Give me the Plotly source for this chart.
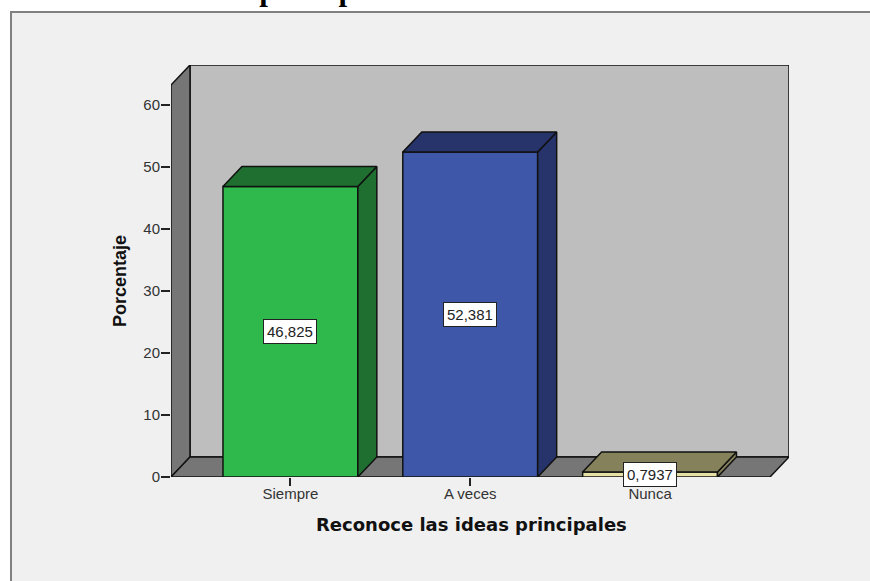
# Recreation of the SPSS style 3D bar chart with Plotly

import plotly.graph_objects as go

categories = ['Siempre', 'A veces', 'Nunca']
percentages = [46.825, 52.381, 0.7937]
value_labels = ['46,825', '52,381', '0,7937']
y_ticks = [0, 10, 20, 30, 40, 50, 60]

FRONT_COLORS = ['#2fb84c', '#3e57a8', '#e6e0a6']
DARK_COLORS = ['#1f7030', '#27346b', '#85815b']
LINE = '#111111'
WALL_LINE = dict(color=LINE, width=1.5)

# Depth of the fake 3D box, in axis units
DX = 0.1056
DY = 3.226
BAR_W = 0.75
X_MIN = -0.664
X_MAX = 2.667
Y_TOP = 63.2

fig = go.Figure()


def add_face(xs, ys, color):
    fig.add_trace(go.Scatter(
        x=xs + xs[:1],
        y=ys + ys[:1],
        mode='lines',
        fill='toself',
        fillcolor=color,
        line=dict(color=LINE, width=1.5),
        hoverinfo='skip',
        showlegend=False
    ))


def add_wall(xs, ys, color):
    # walls are shapes so that they stay under the bars
    points = [f'{x},{y}' for x, y in zip(xs, ys)]
    fig.add_shape(
        type='path', layer='below', xref='x', yref='y',
        path='M ' + ' L '.join(points) + ' Z',
        fillcolor=color, line=WALL_LINE
    )


# Panel behind the chart
fig.add_shape(
    type='rect', xref='paper', yref='paper', layer='below',
    x0=(11 - 171) / 618, x1=(890 - 171) / 618, y0=(477 - 590) / 412, y1=(477 - 12) / 412,
    fillcolor='#f0f0f0', line=dict(color='#808080', width=2)
)

# Back wall, side wall and floor of the box
add_wall([X_MIN + DX, X_MAX + DX, X_MAX + DX, X_MIN + DX], [DY, DY, Y_TOP + DY, Y_TOP + DY], '#bebebe')
add_wall([X_MIN, X_MIN + DX, X_MIN + DX, X_MIN], [0, DY, Y_TOP + DY, Y_TOP], '#767676')
add_wall([X_MIN, X_MAX, X_MAX + DX, X_MIN + DX], [0, 0, DY, DY], '#767676')

fig.add_trace(go.Bar(
    x=[0, 1, 2],
    y=percentages,
    width=BAR_W,
    marker=dict(color=FRONT_COLORS, line=dict(color=LINE, width=1.5)),
    hoverinfo='skip',
    showlegend=False
))

# Side and top faces of the bars
for i, value in enumerate(percentages):
    left = i - BAR_W / 2
    right = i + BAR_W / 2
    add_face([right, right + DX, right + DX, right], [0, DY, value + DY, value], DARK_COLORS[i])
    add_face([left, right, right + DX, left + DX], [value, value, value + DY, value + DY], DARK_COLORS[i])

# Value boxes in the middle of each bar
for i, value in enumerate(percentages):
    fig.add_annotation(
        x=i, y=value / 2, text=value_labels[i], showarrow=False,
        xanchor='center', yanchor='middle',
        font=dict(family='Liberation Sans', size=15, color='#222222'),
        bgcolor='white', bordercolor='#222222', borderwidth=1, borderpad=3
    )

fig.add_annotation(
    xref='paper', yref='paper', x=(408 - 171) / 618, y=(477 - 9.5) / 412,
    xanchor='right', yanchor='bottom', showarrow=False,
    text='<b>Reconoce las ideas principales</b>',
    font=dict(family='Liberation Serif', size=31, color='black')
)
fig.add_annotation(
    xref='paper', yref='paper', x=(471 - 171) / 618, y=(477 - 524) / 412,
    xanchor='center', yanchor='middle', showarrow=False,
    text='<b>Reconoce las ideas principales</b>',
    font=dict(family='DejaVu Sans', size=18, color='#111111')
)
fig.add_annotation(
    xref='paper', yref='paper', x=(120 - 171) / 618, y=(477 - 281) / 412,
    xanchor='center', yanchor='middle', showarrow=False, textangle=-90,
    text='<b>Porcentaje</b>',
    font=dict(family='Liberation Sans', size=18, color='#111111')
)

fig.update_layout(
    width=870,
    height=581,
    margin=dict(l=171, r=81, t=65, b=104),
    paper_bgcolor='white',
    plot_bgcolor='rgba(0,0,0,0)',
    showlegend=False,
    font=dict(family='Liberation Sans', size=15, color='#333333'),
    xaxis=dict(
        range=[X_MIN, X_MAX + DX], tickvals=[0, 1, 2], ticktext=categories,
        showgrid=False, zeroline=False, showline=False, ticklabelstandoff=-5,
        ticks='outside', ticklen=8, tickcolor='#222222', tickwidth=1.5
    ),
    yaxis=dict(
        range=[0, Y_TOP + DY], tickvals=y_ticks,
        showgrid=False, zeroline=False, showline=False, ticklabelstandoff=-2,
        ticks='outside', ticklen=9, tickcolor='#222222', tickwidth=1.5
    )
)

fig.write_html("out.html", config=dict(displayModeBar=False),
               post_script="document.body.style.margin='0';")
